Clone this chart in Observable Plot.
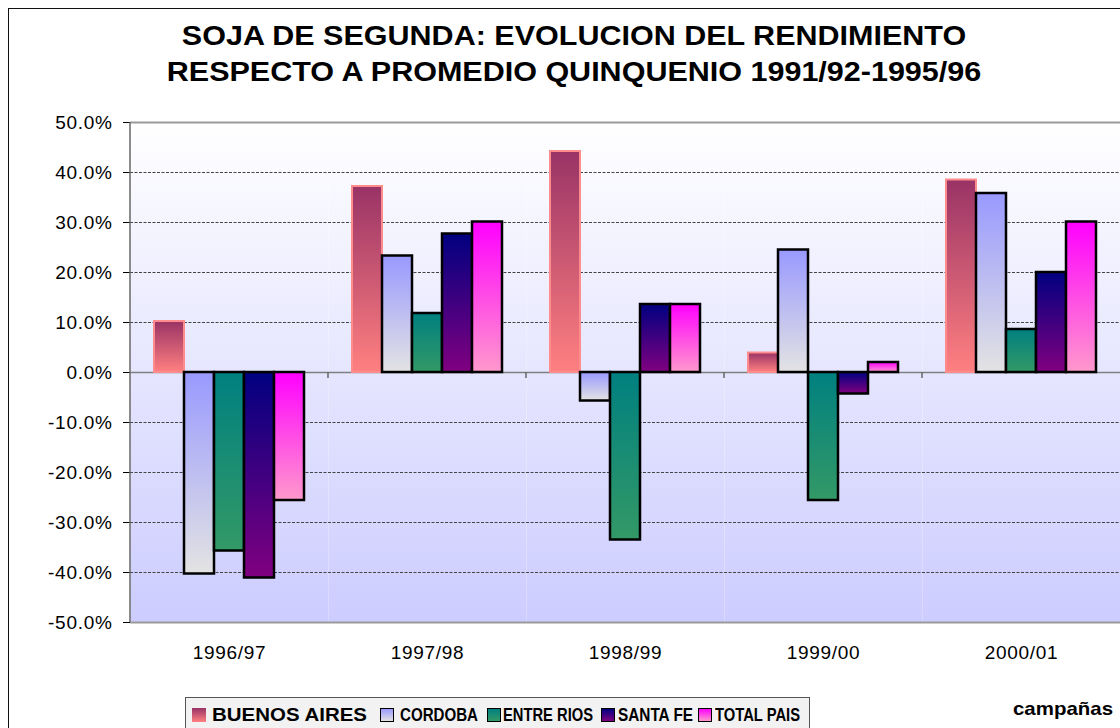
<!DOCTYPE html>
<html>
<head>
<meta charset="utf-8">
<script src="https://cdn.jsdelivr.net/npm/d3@7"></script>
<script src="https://cdn.jsdelivr.net/npm/@observablehq/plot@0.6"></script>
<style>
  body { margin: 0; background: #fff; font-family: "Liberation Sans", Arial, sans-serif; }
  #wrap { position: relative; width: 1120px; height: 728px; overflow: hidden; background: #fff; }
  #frame { position: absolute; left: 8px; top: 8px; width: 1300px; height: 900px;
           border-left: 1.5px solid #111; border-top: 1.5px solid #111; }
  #title { position: absolute; left: 0; top: 18px; width: 1148px; text-align: center;
           font-weight: bold; font-size: 27px; line-height: 36px; color: #000;
           transform: scaleX(1.13); transform-origin: 574px 0; }
  #chart { position: absolute; left: 0; top: 0; }
  #legendBox { position: absolute; left: 185px; top: 697px; width: 625px; height: 44px; box-sizing: border-box;
               background: #f2f2f2; border: 1.5px solid #555; }
  .sw { position: absolute; width: 14px; height: 14px; box-sizing: border-box; top: 708px; }
  .lt { position: absolute; top: 705px; font-weight: bold; font-size: 18.5px; line-height: 20px;
        white-space: nowrap; transform-origin: 0 0; }
  #campanas { position: absolute; left: 1013px; top: 699px; font-weight: bold; font-size: 18.5px;
              line-height: 20px; white-space: nowrap; transform-origin: 0 0; }
</style>
</head>
<body>
<div id="wrap">
  <div id="frame"></div>
  <div id="title">SOJA DE SEGUNDA: EVOLUCION DEL RENDIMIENTO<br>RESPECTO A PROMEDIO QUINQUENIO 1991/92-1995/96</div>
  <svg id="defs" width="0" height="0" style="position:absolute"><defs id="gradDefs"></defs></svg>
  <div id="chart"></div>
  <div id="legendBox"></div>
  <div id="legendItems"></div>
  <div id="campanas">campañas</div>
</div>
<script>
// ---- data ----
const categories = ["1996/97", "1997/98", "1998/99", "1999/00", "2000/01"];
const seriesNames = ["BUENOS AIRES", "CORDOBA", "ENTRE RIOS", "SANTA FE", "TOTAL PAIS"];
const buenosAires = [10.2, 37.2, 44.2, 3.9, 38.5];
const cordoba     = [-40.3, 23.3, -5.7, 24.5, 35.8];
const entreRios   = [-35.7, 11.8, -33.5, -25.6, 8.6];
const santaFe     = [-41.1, 27.7, 13.6, -4.3, 20.0];
const totalPais   = [-25.6, 30.1, 13.6, 2.0, 30.1];
const yTicks = [-50, -40, -30, -20, -10, 0, 10, 20, 30, 40, 50];

// ---- styles / layout ----
const gradTop    = ["#993366", "#9999ff", "#008080", "#000080", "#ff00ff"];
const gradBottom = ["#ff8080", "#e3e3e3", "#339966", "#800080", "#ff99cc"];
const strokes    = ["#ff8c8c", "#000", "#000", "#000", "#000"];
const strokeW    = [2, 2.5, 2.5, 2.5, 2.5];
const legendSwatchLeft = [192, 380, 487, 601, 698];
const legendTextLeft   = [212, 400, 503, 618, 715];
const legendTextWidth  = [155, 78, 90, 75, 85];

const valuesBySeries = [buenosAires, cordoba, entreRios, santaFe, totalPais];
const data = [];
categories.forEach((c, i) => seriesNames.forEach((s, j) =>
  data.push({campaign: c, series: s, value: valuesBySeries[j][i]})));

// gradients
const defs = d3.select("#gradDefs");
function addGrad(id, c1, c2) {
  const g = defs.append("linearGradient").attr("id", id)
    .attr("x1", 0).attr("y1", 0).attr("x2", 0).attr("y2", 1);
  g.append("stop").attr("offset", 0).attr("stop-color", c1);
  g.append("stop").attr("offset", 1).attr("stop-color", c2);
}
addGrad("bgGrad", "#ffffff", "#ccccff");
seriesNames.forEach((s, j) => addGrad("g" + j, gradTop[j], gradBottom[j]));

const chart = Plot.plot({
  width: 1120, height: 680,
  marginLeft: 130, marginRight: 0, marginTop: 122, marginBottom: 58,
  style: {fontFamily: '"Liberation Sans", Arial, sans-serif', fontSize: "19px", letterSpacing: "0.7px",
          color: "#000", background: "transparent", overflow: "visible"},
  fx: {domain: categories, padding: 0, label: null, axis: "bottom", tickSize: 0, tickPadding: 23},
  x: {domain: seriesNames, paddingInner: 0, paddingOuter: 0.7, axis: null},
  y: {domain: [-50, 50], ticks: yTicks, tickFormat: d => d.toFixed(1) + "%", tickSize: 7, tickPadding: 11, label: null},
  marks: [
    Plot.frame({fill: "url(#bgGrad)", stroke: null}),
    Plot.ruleY(yTicks.filter(t => t !== 0 && Math.abs(t) !== 50), {stroke: "#444", strokeWidth: 1, strokeDasharray: "3,1.5"}),
    Plot.ruleY([0], {stroke: "#808080", strokeWidth: 1.5}),
    Plot.ruleY([yTicks[0], yTicks[yTicks.length - 1]], {stroke: "#9a9a9a", strokeWidth: 2}),
    ...seriesNames.map((s, j) => Plot.barY(data.filter(d => d.series === s), {
      fx: "campaign", x: "series", y: "value",
      fill: `url(#g${j})`, stroke: strokes[j], strokeWidth: strokeW[j]
    }))
  ]
});
document.getElementById("chart").appendChild(chart);

// left axis line and category boundary ticks, positioned from Plot's own scales
const fxS = chart.scale("fx"), yS = chart.scale("y");
const bx = d3.scaleBand(fxS.domain, fxS.range).paddingInner(0).paddingOuter(0);
const ly = d3.scaleLinear(yS.domain, yS.range);
const svg = d3.select(chart);
svg.append("line").attr("x1", bx(categories[0])).attr("x2", bx(categories[0]))
  .attr("y1", ly(yTicks[0])).attr("y2", ly(yTicks[yTicks.length - 1]))
  .attr("stroke", "#666").attr("stroke-width", 1.5);
categories.slice(1).forEach(c => {
  svg.append("line").attr("x1", bx(c)).attr("x2", bx(c))
    .attr("y1", ly(0)).attr("y2", ly(0) + 6).attr("stroke", "#666").attr("stroke-width", 1.5);
});

// legend
const leg = d3.select("#legendItems");
seriesNames.forEach((s, j) => {
  leg.append("div").attr("class", "sw")
    .style("left", legendSwatchLeft[j] + "px")
    .style("background", `linear-gradient(to bottom, ${gradTop[j]}, ${gradBottom[j]})`)
    .style("border", j === 0 ? "none" : "1.5px solid #000");
  const t = leg.append("div").attr("class", "lt").style("left", legendTextLeft[j] + "px").text(s);
  const w = t.node().getBoundingClientRect().width;
  t.style("transform", `scaleX(${legendTextWidth[j] / w})`);
});
const cp = document.getElementById("campanas");
cp.style.transform = `scaleX(${100 / cp.getBoundingClientRect().width})`;
</script>
</body>
</html>
